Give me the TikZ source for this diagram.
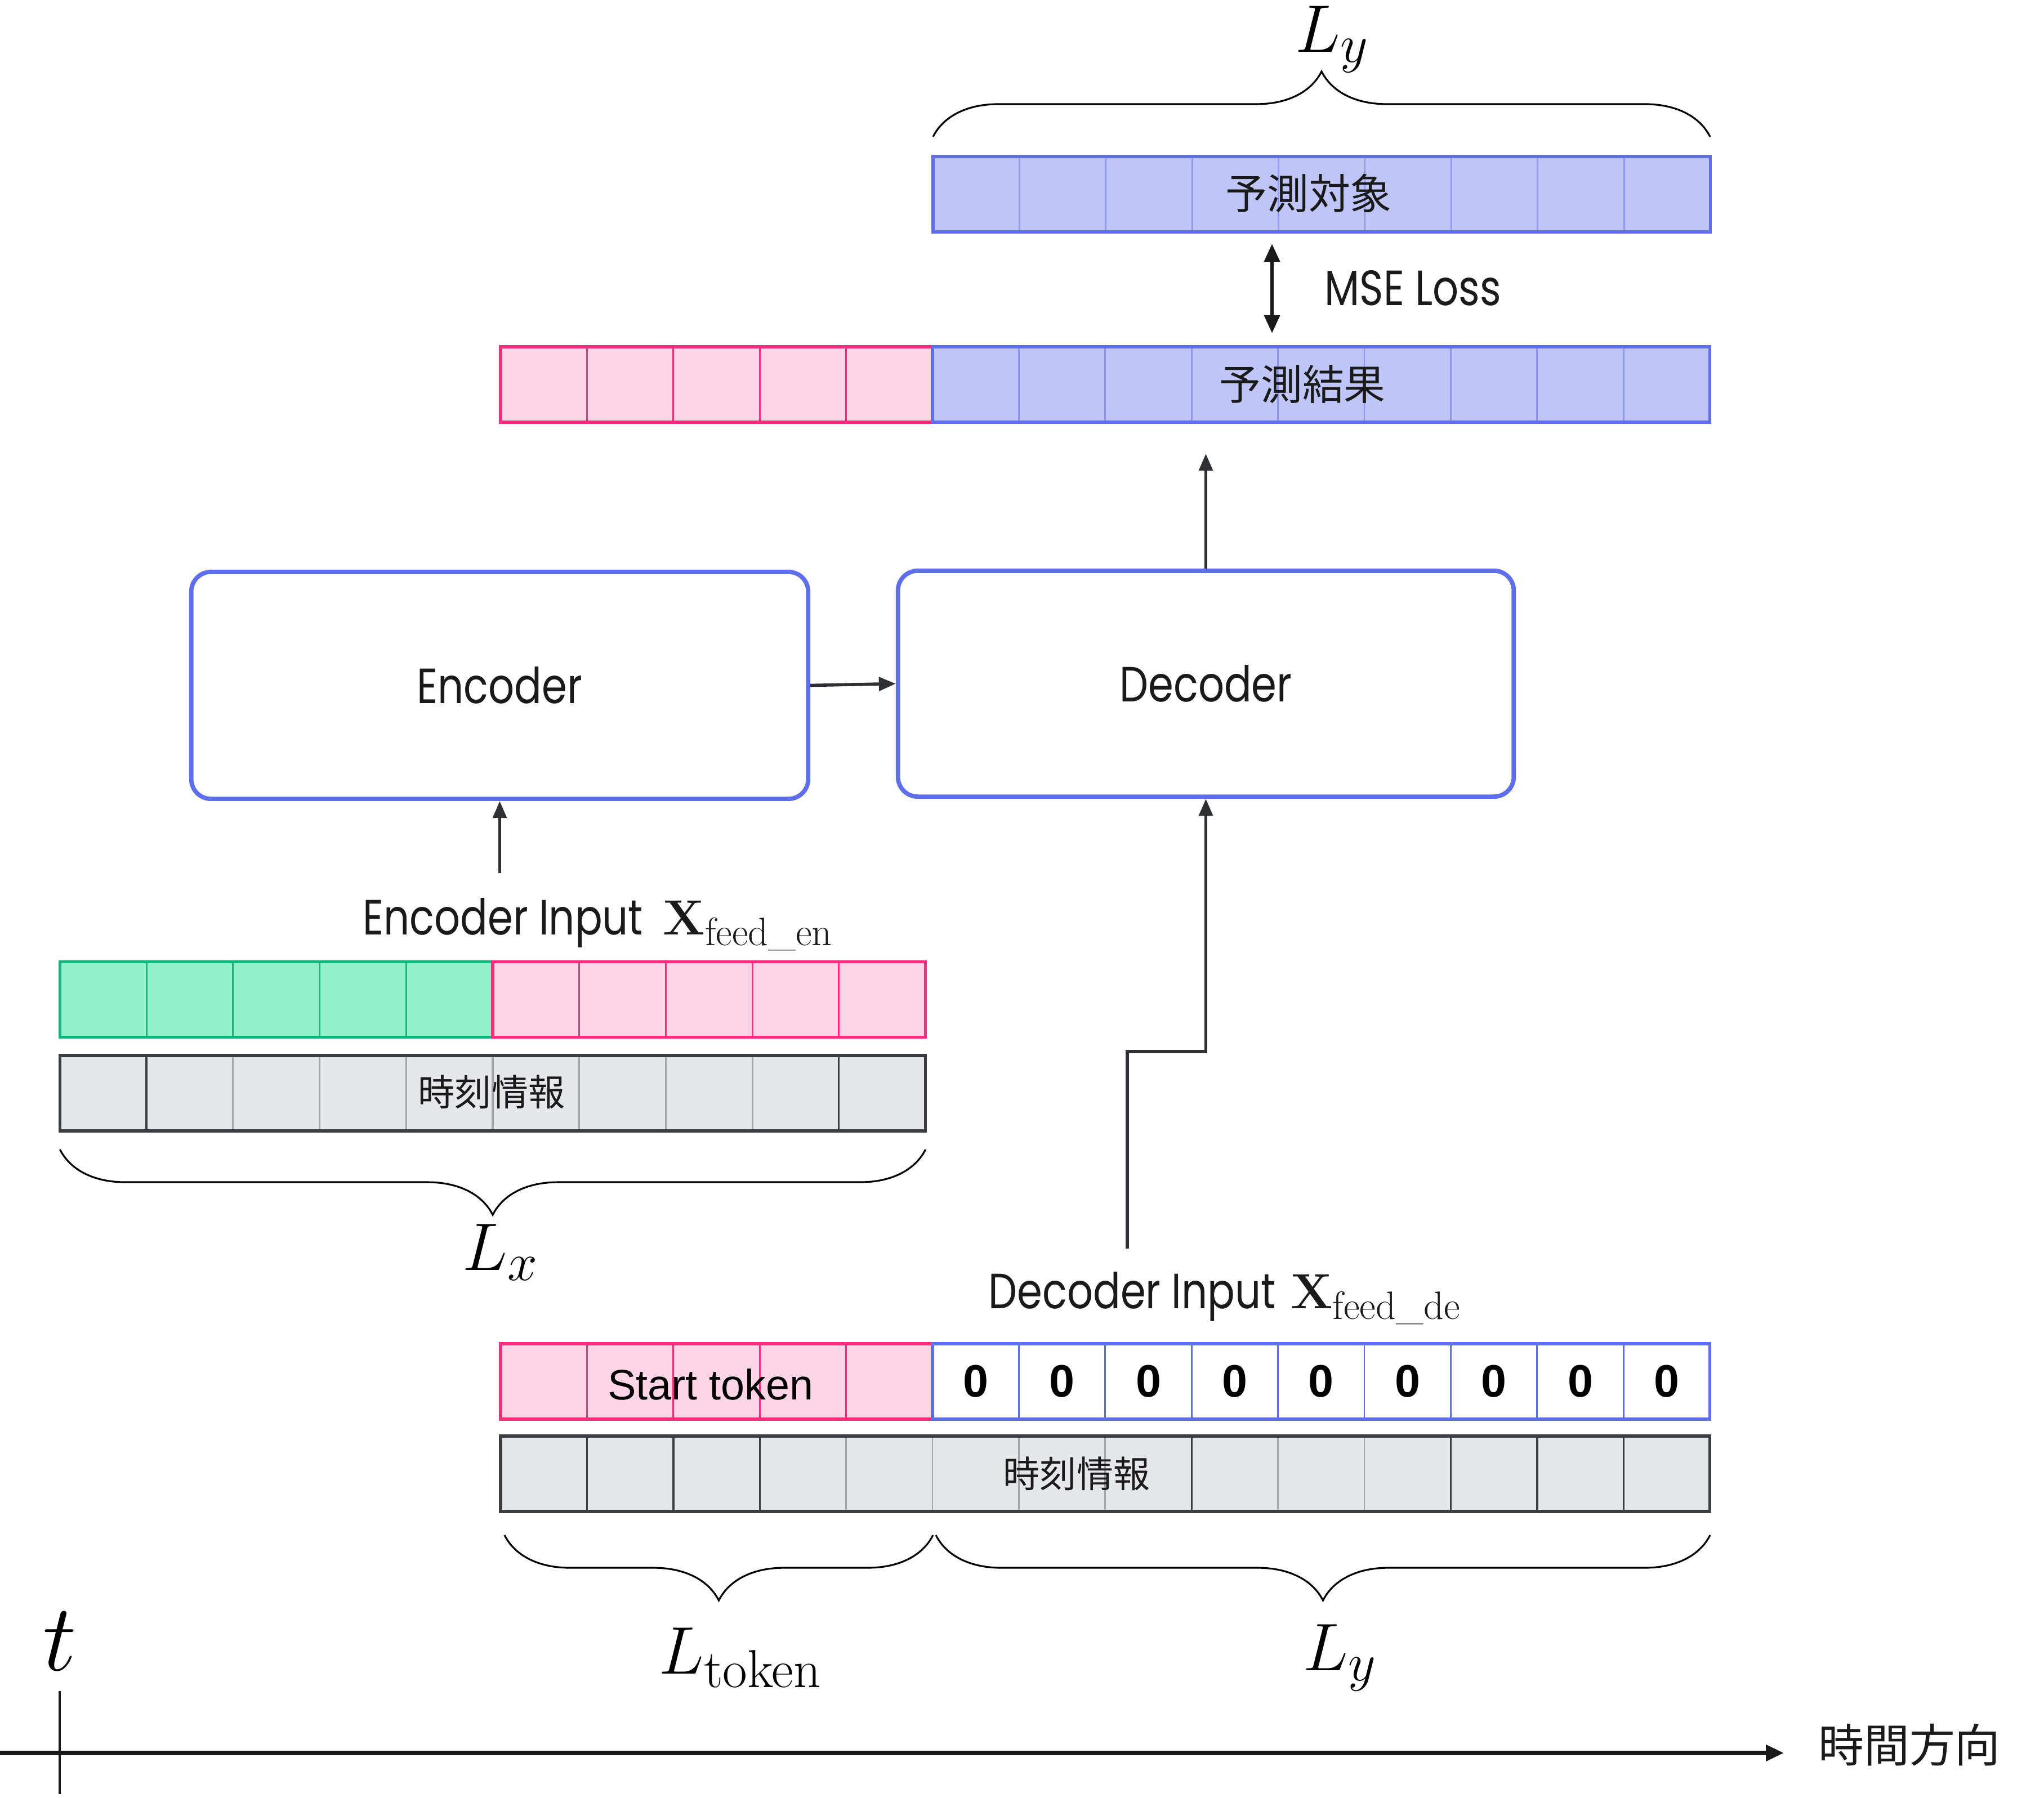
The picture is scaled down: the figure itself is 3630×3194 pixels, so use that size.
\RequirePackage{fix-cm}
\documentclass[tikz,border=0pt]{standalone}
\usepackage{amsmath}
\usepackage[no-math]{fontspec}
\newfontfamily\popf[FakeStretch=0.82]{Poppins}
\newfontfamily\cjk{Noto Sans CJK JP}
\newfontfamily\arf{Liberation Sans}
\DeclareMathSizes{25}{25}{20}{15}
\DeclareMathSizes{34}{34}{27}{20}
\usetikzlibrary{arrows.meta,decorations.pathreplacing}
\definecolor{blueE}{HTML}{5F6FEC}
\definecolor{blueD}{HTML}{8C97F1}
\definecolor{blueF}{HTML}{BFC5F6}
\definecolor{pinkE}{HTML}{F72D7B}
\definecolor{pinkF}{HTML}{FDD5E6}
\definecolor{greenE}{HTML}{1DB27B}
\definecolor{greenF}{HTML}{94EFCB}
\definecolor{grayE}{HTML}{3D3E42}
\definecolor{grayM}{HTML}{A4A5A8}
\definecolor{grayF}{HTML}{E6E7EA}
\definecolor{arrC}{HTML}{2E3034}
\definecolor{txtC}{HTML}{1A1A1A}
\tikzset{
  cell/.style={minimum width=1.534cm, minimum height=1.34cm, inner sep=0pt, outer sep=0pt, line width=0.8pt},
  cellB/.style={cell, fill=blueF, draw=blueD},
  cellP/.style={cell, fill=pinkF, draw=pinkE},
  cellG/.style={cell, fill=greenF, draw=greenE},
  cellT/.style={cell, fill=grayF, draw=grayM},
  cellW/.style={cell, fill=white, draw=blueE},
  frameB/.style={draw=blueE, line width=1.5pt},
  frameP/.style={draw=pinkE, line width=1.5pt},
  frameG/.style={draw=greenE, line width=1.5pt},
  frameT/.style={draw=grayE, line width=1.5pt},
  divT/.style={draw=grayE, line width=1pt},
  blk/.style={draw=blueE, line width=2.2pt, rounded corners=0.35cm, fill=white, inner sep=0pt,
              font=\popf\fontsize{25}{30}\selectfont, text=txtC},
  lbl/.style={font=\popf\fontsize{25}{30}\selectfont, text=txtC, inner sep=0pt},
  cjkl/.style={font=\cjk\fontsize{21}{25}\selectfont, text=txtC, inner sep=0pt},
  cjks/.style={font=\cjk\fontsize{18.5}{22}\selectfont, text=txtC, inner sep=0pt},
  zero/.style={font=\arf\bfseries\fontsize{23}{27}\selectfont, text=black, inner sep=0pt},
  mth/.style={font=\fontsize{34}{40}\selectfont, inner sep=0pt},
  arr/.style={draw=arrC, line width=1.6pt, -{Triangle[length=0.3cm, width=0.24cm]}},
  brc/.style={decorate, decoration={brace, amplitude=1.16cm}, line width=0.9pt, draw=black},
}
\begin{document}
\begin{tikzpicture}[x=0.01cm, y=-0.01cm]
\useasboundingbox (0,0) rectangle (3630,3194);

% ---------- target row ----------
\foreach \i in {1,...,9} \node[cellB] (tg\i) at ({1657+(\i-0.5)*153.4},345) {};
\draw[frameB] (tg1.north west) rectangle (tg9.south east);
\node[cjkl] (tgt) at (2324,343) {予測対象};
\coordinate (tbl) at (1657,243);
\coordinate (tbr) at (3037,243);
\draw[brc] (tbl) -- (tbr);
\node[mth] (lyt) at (2366,70) {$L_y$};

% ---------- MSE ----------
\coordinate (m1) at (2259,433);
\coordinate (m2) at (2259,592);
\draw[arr, draw=txtC, line width=1.9pt, {Triangle[length=0.32cm, width=0.27cm]}-{Triangle[length=0.32cm, width=0.27cm]}] (m1) -- (m2);
\node[lbl, anchor=base west] (mse) at (2352,542) {MSE Loss};

% ---------- prediction row ----------
\foreach \i in {1,...,5} \node[cellP] (pr\i) at ({889+(\i-0.5)*153.4},683) {};
\foreach \i in {6,...,14} \node[cellB] (pr\i) at ({889+(\i-0.5)*153.4},683) {};
\draw[frameP] (pr1.north west) rectangle (pr5.south east);
\draw[frameB] (pr6.north west) rectangle (pr14.south east);
\node[cjkl] (prt) at (2313,683) {予測結果};

% ---------- encoder / decoder ----------
\node[blk, minimum width=10.95cm, minimum height=4.03cm] (enc) at (887.5,1217.5) {Encoder};
\node[blk, minimum width=10.93cm, minimum height=4.01cm] (dec) at (2141.5,1214.5) {Decoder};
\draw[arr] (enc.east) -- (dec.west);
\coordinate (predin) at (2141.5,806);
\draw[arr] (dec.north) -- (predin);
\coordinate (eia) at (887.5,1551);
\draw[arr] (eia) -- (enc.south);
\coordinate (dis) at (2002,2218);
\coordinate (bend) at (2002,1868);
\draw[arr] (dis) -- (bend) -| (dec.south);

% ---------- encoder input ----------
\node[lbl, anchor=base west] (encin) at (644,1660) {Encoder Input\hspace{0.4em}$\mathbf{X}_{\textrm{feed\_en}}$};
\foreach \i in {1,...,5} \node[cellG] (ei\i) at ({106.5+(\i-0.5)*153.7},1775.5) {};
\foreach \i in {6,...,10} \node[cellP] (ei\i) at ({106.5+(\i-0.5)*153.7},1775.5) {};
\draw[frameG] (ei1.north west) rectangle (ei5.south east);
\draw[frameP] (ei6.north west) rectangle (ei10.south east);

\foreach \i in {1,...,10} \node[cellT] (et\i) at ({106.5+(\i-0.5)*153.7},1942) {};
\foreach \i in {1,9} \draw[divT] (et\i.north east) -- (et\i.south east);
\draw[frameT] (et1.north west) rectangle (et10.south east);
\node[cjks] (ett) at (873,1940) {時刻情報};

\coordinate (lxl) at (1643.6,2042);
\coordinate (lxr) at (106.5,2042);
\draw[brc] (lxl) -- (lxr);
\node[mth] (lx) at (889,2225) {$L_x$};

% ---------- decoder input ----------
\node[lbl, anchor=base west] (decin) at (1755,2324) {Decoder Input\hspace{0.3em}$\mathbf{X}_{\textrm{feed\_de}}$};
\foreach \i in {1,...,5} \node[cellP] (di\i) at ({889+(\i-0.5)*153.4},2454) {};
\foreach \i in {6,...,14} {
  \node[cellW] (di\i) at ({889+(\i-0.5)*153.4},2454) {};
  \node[zero] (z\i) at (di\i) {0};
}
\draw[frameP] (di1.north west) rectangle (di5.south east);
\draw[frameB] (di6.north west) rectangle (di14.south east);
\node[font=\arf\fontsize{21.5}{26}\selectfont, text=black, inner sep=0pt] (stk) at (1262,2459) {Start token};

\foreach \i in {1,...,14} \node[cellT] (dt\i) at ({889+(\i-0.5)*153.4},2618) {};
\foreach \i in {1,2,3,8,11,12,13} \draw[divT] (dt\i.north east) -- (dt\i.south east);
\draw[frameT] (dt1.north west) rectangle (dt14.south east);
\node[cjks] (dtt) at (1912,2618) {時刻情報};

\coordinate (ltr) at (1657,2727);
\coordinate (ltl) at (896,2727);
\draw[brc] (ltr) -- (ltl);
\coordinate (lyr) at (3037,2727);
\coordinate (lyl) at (1662,2727);
\draw[brc] (lyr) -- (lyl);
\node[mth] (ltok) at (1315,2945) {$L_{\textrm{token}}$};
\node[mth] (lyb) at (2380,2945) {$L_y$};

% ---------- time axis ----------
\coordinate (ax0) at (0,3114);
\coordinate (ax1) at (3168,3114);
\draw[draw=txtC, line width=2.1pt, -{Triangle[length=0.32cm, width=0.28cm]}] (ax0) -- (ax1);
\coordinate (tk0) at (106,3004);
\coordinate (tk1) at (106,3187);
\draw[draw=txtC, line width=1.4pt] (tk0) -- (tk1);
\node[font=\fontsize{48}{56}\selectfont, inner sep=0pt] (tl) at (106,2916) {$t$};
\node[font=\cjk\fontsize{23}{27}\selectfont, text=txtC, inner sep=0pt] (tdir) at (3391,3100) {時間方向};
\end{tikzpicture}
\end{document}
